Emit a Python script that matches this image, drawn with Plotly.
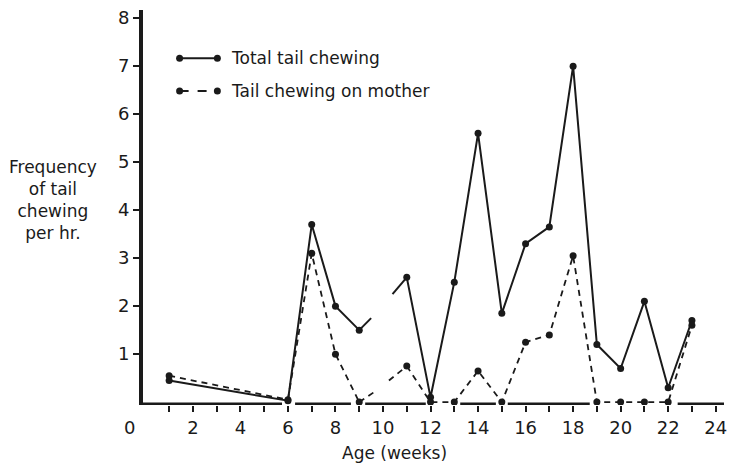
import plotly.graph_objects as go

# ---- data ----
weeks = [1, 6, 7, 8, 9, 10, 11, 12, 13, 14, 15, 16, 17, 18, 19, 20, 21, 22, 23]
total_tail_chewing = [0.45, 0.03, 3.7, 2.0, 1.5, None, 2.6, 0.1, 2.5, 5.6, 1.85, 3.3, 3.65, 7.0, 1.2, 0.7, 2.1, 0.3, 1.7]
tail_chewing_on_mother = [0.55, 0.05, 3.1, 1.0, 0.0, None, 0.75, 0.0, 0.0, 0.65, 0.0, 1.25, 1.4, 3.05, 0.0, 0.0, 0.0, 0.0, 1.6]

# broken-line stubs around the missing week 10
total_stub_a_x = [9, 9.5]
total_stub_a_y = [1.5, 1.75]
total_stub_b_x = [10.4, 11]
total_stub_b_y = [2.25, 2.6]
mother_stub_a_x = [9, 9.6]
mother_stub_a_y = [0.0, 0.2]
mother_stub_b_x = [10.25, 11]
mother_stub_b_y = [0.45, 0.75]

# thick baseline segments (weeks)
baseline_segments = [(-0.1, 5.75), (6.3, 8.65), (9.25, 11.8), (13.25, 14.75), (15.25, 18.7), (22.4, 24.35)]

x_tick_vals = list(range(1, 25))
x_tick_text = [str(v) if v % 2 == 0 else "" for v in x_tick_vals]
y_tick_vals = [1, 2, 3, 4, 5, 6, 7, 8]

FONT = "DejaVu Sans"
INK = "#1a1a1a"

fig = go.Figure()

fig.add_trace(go.Scatter(
    x=weeks, y=total_tail_chewing, mode="lines+markers", connectgaps=False,
    line=dict(color=INK, width=2), marker=dict(color=INK, size=7),
    name="Total tail chewing", showlegend=False))
fig.add_trace(go.Scatter(
    x=weeks, y=tail_chewing_on_mother, mode="lines+markers", connectgaps=False,
    line=dict(color=INK, width=1.8, dash="6px,5px"), marker=dict(color=INK, size=7),
    name="Tail chewing on mother", showlegend=False))

for xs, ys in [(total_stub_a_x, total_stub_a_y), (total_stub_b_x, total_stub_b_y)]:
    fig.add_trace(go.Scatter(x=xs, y=ys, mode="lines", line=dict(color=INK, width=2),
                             showlegend=False, hoverinfo="skip"))
for xs, ys in [(mother_stub_a_x, mother_stub_a_y), (mother_stub_b_x, mother_stub_b_y)]:
    fig.add_trace(go.Scatter(x=xs, y=ys, mode="lines", line=dict(color=INK, width=1.8, dash="6px,5px"),
                             showlegend=False, hoverinfo="skip"))

shapes = []
for x0, x1 in baseline_segments:
    shapes.append(dict(type="line", xref="x", yref="y", x0=x0, x1=x1, y0=-0.06, y1=-0.06,
                       line=dict(color=INK, width=5), layer="below"))

# custom legend (markers at both ends of the sample line)
leg_x0, leg_x1 = 0.063, 0.128
leg_rows = [(0.878, "solid", "Total tail chewing"), (0.795, "dash", "Tail chewing on mother")]
annotations = []
for ly, dash, label in leg_rows:
    shapes.append(dict(type="line", xref="paper", yref="paper", x0=leg_x0, x1=leg_x1, y0=ly, y1=ly,
                       line=dict(color=INK, width=2 if dash == "solid" else 1.8, dash=dash)))
    for lx in (leg_x0, leg_x1):
        shapes.append(dict(type="circle", xref="paper", yref="paper",
                           x0=lx - 0.006, x1=lx + 0.006, y0=ly - 0.009, y1=ly + 0.009,
                           fillcolor=INK, line=dict(color=INK, width=0)))
    annotations.append(dict(xref="paper", yref="paper", x=leg_x1 + 0.02, y=ly, text=label,
                            showarrow=False, xanchor="left", yanchor="middle",
                            font=dict(family=FONT, size=17, color=INK)))

annotations.append(dict(xref="paper", yref="paper", x=-0.155, y=0.52,
                        text="Frequency<br>of tail<br>chewing<br>per hr.",
                        showarrow=False, xanchor="center", yanchor="middle", align="center",
                        font=dict(family=FONT, size=17, color=INK)))
annotations.append(dict(xref="x", yref="paper", x=0, y=0, yshift=-22, xshift=-16,
                        text="0", showarrow=False, xanchor="center", yanchor="middle",
                        font=dict(family=FONT, size=18, color=INK)))
annotations.append(dict(xref="paper", yref="paper", x=0.433, y=0, yshift=-48,
                        text="Age (weeks)", showarrow=False, xanchor="center", yanchor="middle",
                        font=dict(family=FONT, size=17, color=INK)))

fig.update_layout(
    width=733, height=466,
    margin=dict(l=143, r=6, t=10, b=61),
    paper_bgcolor="white", plot_bgcolor="white",
    shapes=shapes, annotations=annotations,
    xaxis=dict(range=[-0.1, 24.35], tickvals=x_tick_vals, ticktext=x_tick_text,
               ticks="outside", ticklen=6, tickwidth=1.5, tickcolor=INK,
               showgrid=False, zeroline=False, showline=False,
               tickfont=dict(family=FONT, size=18, color=INK)),
    yaxis=dict(range=[-0.06, 8.17], tickvals=y_tick_vals,
               ticks="outside", ticklen=6, tickwidth=1.5, tickcolor=INK,
               showgrid=False, zeroline=False, showline=True, linecolor=INK, linewidth=4,
               tickfont=dict(family=FONT, size=18, color=INK)),
)

fig.write_html("out.html", config={"displayModeBar": False},
               post_script="document.body.style.margin='0';")
